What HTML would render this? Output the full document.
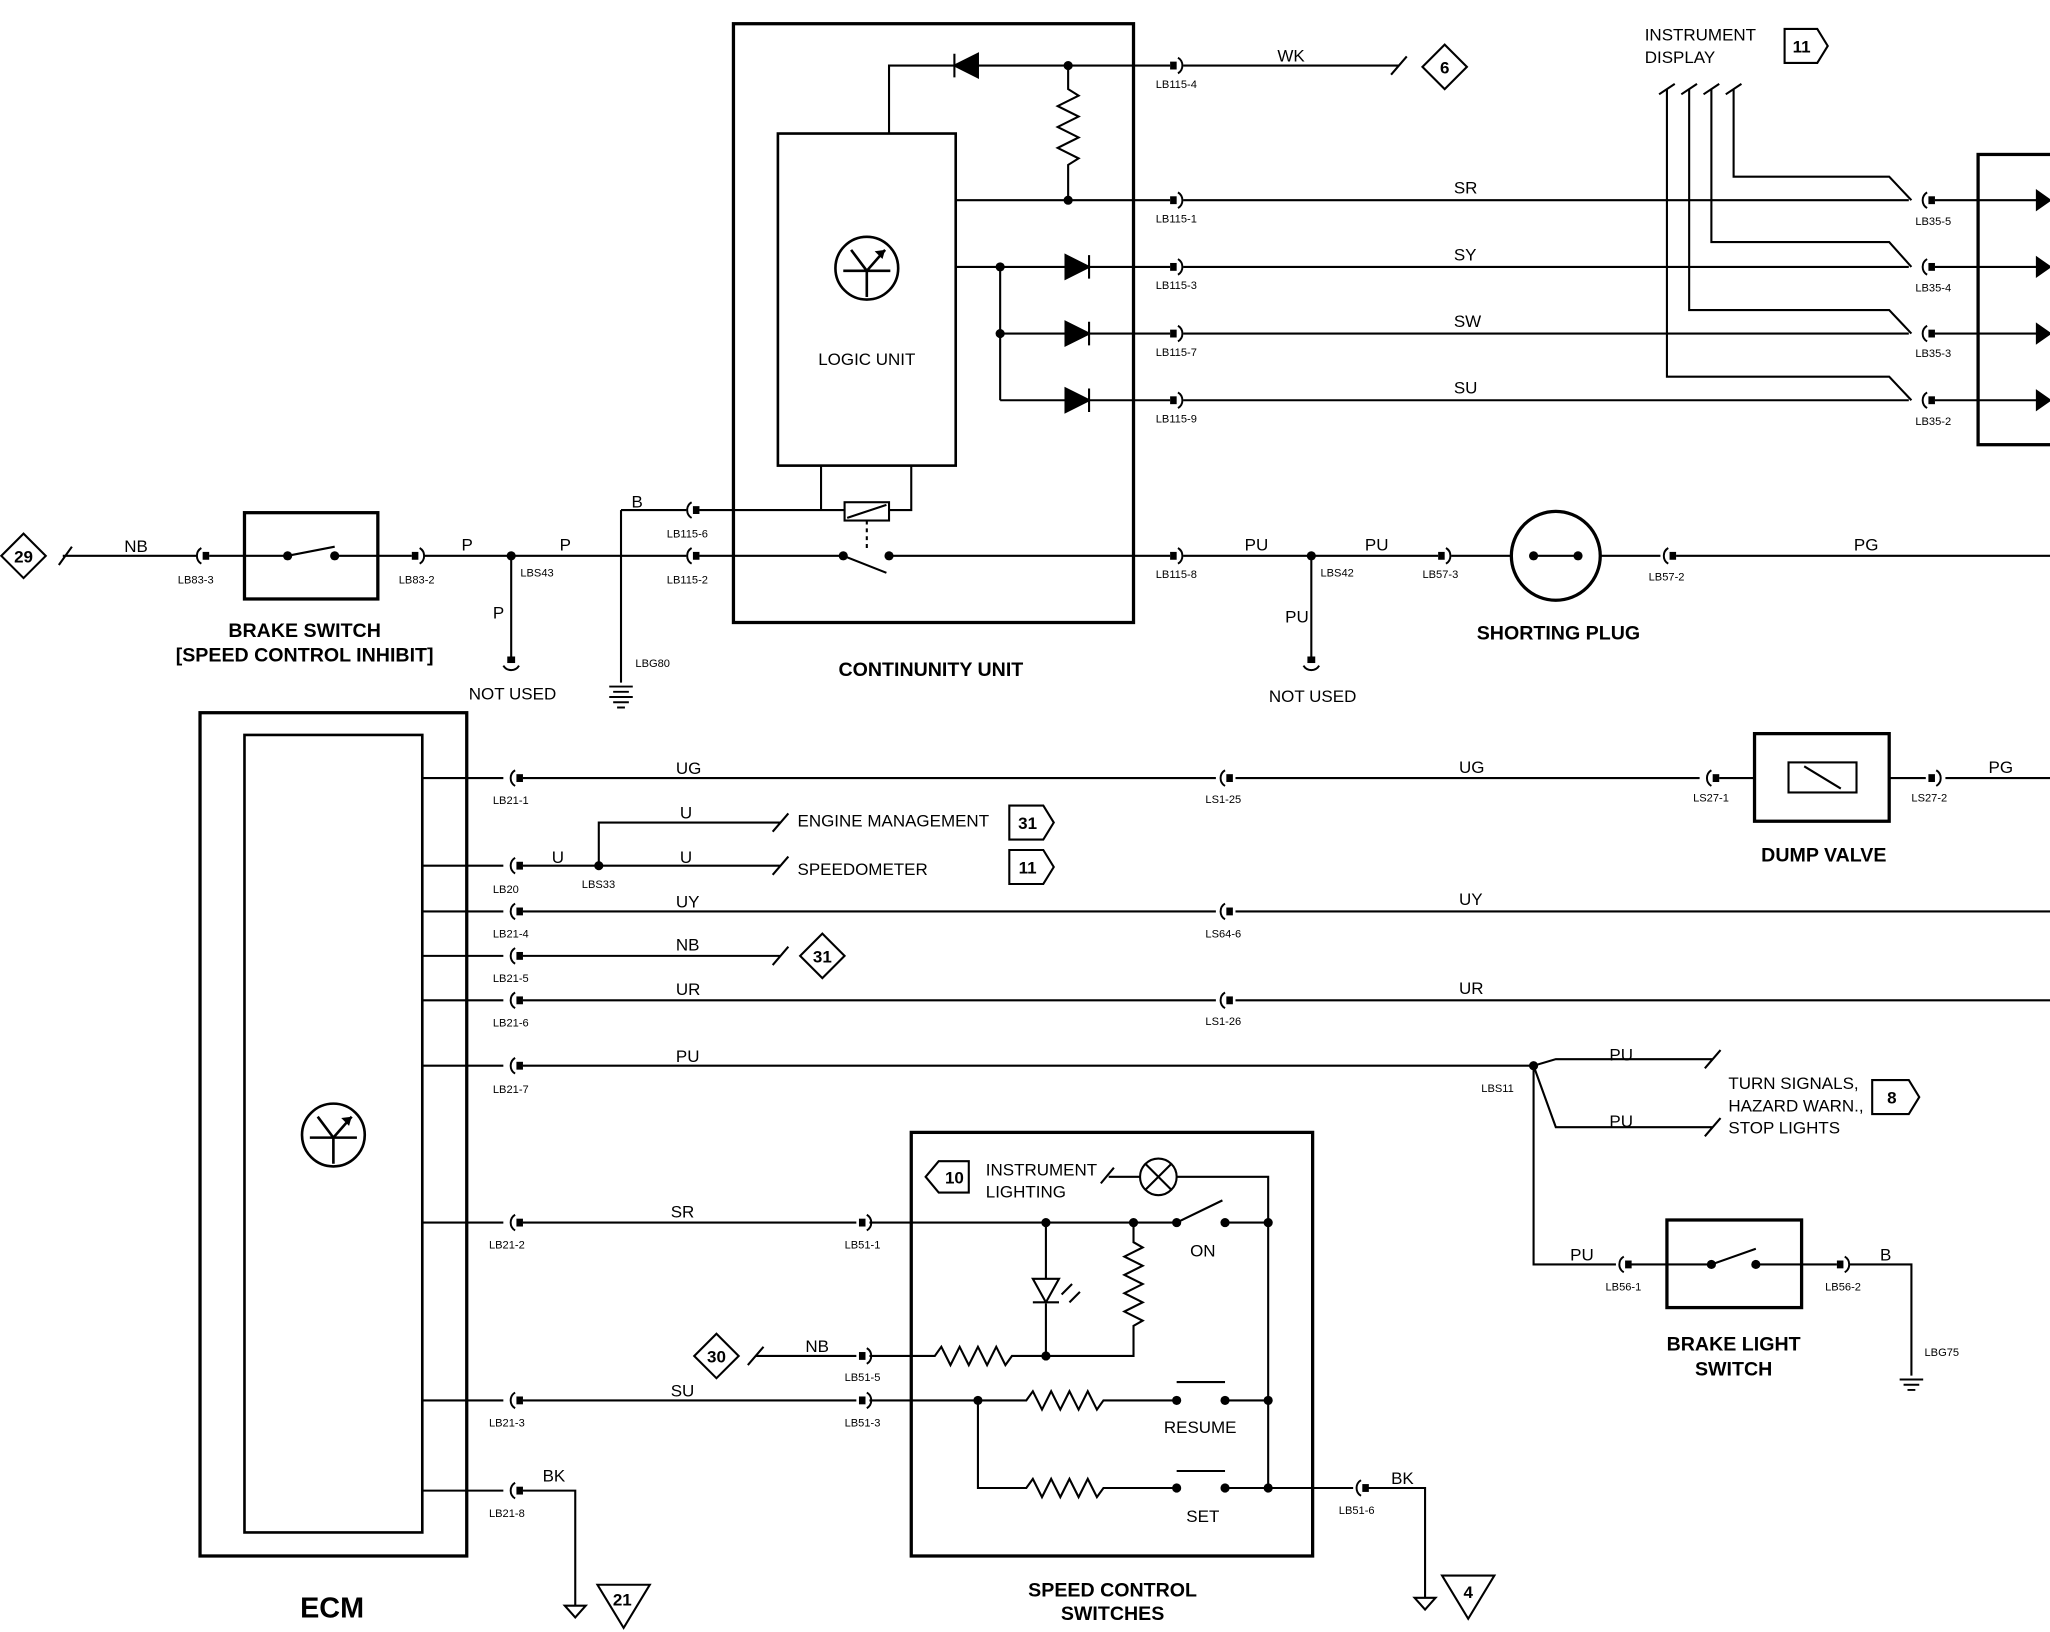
<!DOCTYPE html>
<html><head><meta charset="utf-8"><style>
html,body{margin:0;padding:0;background:#fff}
svg{display:block}
text{font-family:"Liberation Sans",sans-serif;fill:#000}
.w{font-size:13px}
.c{font-size:8.5px}
.b{font-size:15px;font-weight:bold}
.t{font-size:13px}
</style></head><body>
<svg width="2050" height="1632" viewBox="0 0 1568 1248" xmlns="http://www.w3.org/2000/svg">
<defs>
<g id="cn"><rect x="-5" y="-3" width="5" height="6" fill="#000"/><path d="M1,-6 A7,7 0 0 1 1,6" fill="none" stroke="#000" stroke-width="1.5"/></g>
<g id="cd"><rect x="-3" y="-6" width="6" height="5" fill="#000"/><path d="M-6,1 A7,7 0 0 0 6,1" fill="none" stroke="#000" stroke-width="1.5"/></g>
<g id="dot"><circle r="3.5" fill="#000"/></g>
<g id="sym"><circle r="24" fill="none" stroke="#000" stroke-width="2"/><path d="M-18,2 H18 M0,2 V22 M0,2 L-12,-14 M0,2 L14,-14" stroke="#000" stroke-width="2" fill="none"/><path d="M14,-14 l-8,1 l6,6z" fill="#000"/></g>
<g id="gnd"><path d="M-9,0 H9 M-6,4 H6 M-3,8 H3" stroke="#000" stroke-width="1.5"/></g>
</defs>
<g fill="none" stroke="#000" stroke-width="1.6">
<!-- continuity unit -->
<rect x="561" y="18" width="306" height="458" stroke-width="2.5"/>
<rect x="595" y="102" width="136" height="254" stroke-width="2"/>
<path d="M680,102 V50 H895"/>
<path d="M817,50 V68 l8,5 l-16,8 l16,8 l-16,8 l16,8 l-16,8 l16,8 l-8,5 V153"/>
<path d="M731,153 H895 M731,204 H765 V306 M765,204 H895 M765,255 H895 M765,306 H895"/>
<!-- right wires -->
<path d="M905,50 H1070 M1064,57 l12,-14"/>
<path d="M905,153 H1460 M905,204 H1460 M905,255 H1460 M905,306 H1460"/>
<path d="M1480,153 H1568 M1480,204 H1568 M1480,255 H1568 M1480,306 H1568"/>
<rect x="1513" y="118" width="70" height="222" stroke-width="2.5"/>
<path d="M1326,68 V135 H1445 L1462,153 M1309,68 V185 H1445 L1462,204 M1292,68 V237 H1445 L1462,255 M1275,68 V288 H1445 L1462,306"/>
<path d="M1269,72 l12,-8 M1286,72 l12,-8 M1303,72 l12,-8 M1320,72 l12,-8"/>
<path d="M1365,22 H1390 L1398,35 L1390,48 H1365 Z"/>
<path d="M1105,34 L1122,51 L1105,68 L1088,51 Z"/>
<!-- middle row -->
<path d="M18,408 L35,425 L18,442 L1,425 Z"/>
<path d="M48,425 H150 M45,432 l10,-14"/>
<rect x="187" y="392" width="102" height="66" stroke-width="2.5"/>
<path d="M160,425 H220 L256,418 M256,425 H315"/>
<path d="M325,425 H525 M391,425 V503 M475,390 V522 M475,390 H525"/>
<path d="M535,390 H646 M628,356 V390 M697,356 V390 H680"/>
<rect x="646" y="384" width="34" height="14"/>
<path d="M648,396 L678,386"/>
<path d="M663,398 V420" stroke-dasharray="3,3"/>
<path d="M535,425 H645 L678,438 M680,425 H895"/>
<path d="M905,425 H1100 M1003,425 V503 M1110,425 H1156 M1224,425 H1270 M1282,425 H1568"/>
<circle cx="1190" cy="425" r="34" stroke-width="2.5"/>
<path d="M1173,425 H1207"/>
<!-- ECM -->
<rect x="153" y="545" width="204" height="645" stroke-width="2.5"/>
<rect x="187" y="562" width="136" height="610" stroke-width="2"/>
<path d="M323,595 H385 M400,595 H930 M945,595 H1300 M1315,595 H1342 M1445,595 H1473 M1488,595 H1568"/>
<rect x="1342" y="561" width="103" height="67" stroke-width="2.5"/>
<rect x="1368" y="583" width="52" height="23"/>
<path d="M1380,586 L1408,603"/>
<path d="M323,662 H385 M400,662 H597 M458,662 V629 H597 M591,669 l12,-14 M591,636 l12,-14"/>
<path d="M772,616 H798 L806,629 L798,642 H772 Z M772,650 H798 L806,663 L798,676 H772 Z"/>
<path d="M323,697 H385 M400,697 H930 M945,697 H1568"/>
<path d="M323,731 H385 M400,731 H597 M591,738 l12,-14"/>
<path d="M629,714 L646,731 L629,748 L612,731 Z"/>
<path d="M323,765 H385 M400,765 H930 M945,765 H1568"/>
<path d="M323,815 H385 M400,815 H1173 L1190,810 H1310 M1173,815 L1190,862 H1310 M1304,817 l12,-14 M1304,869 l12,-14"/>
<path d="M1432,826 H1460 L1468,839 L1460,852 H1432 Z"/>
<path d="M1173,815 V967 H1236 M1246,967 H1275 M1378,967 H1405 M1415,967 H1462 V1052"/>
<rect x="1275" y="933" width="103" height="67" stroke-width="2.5"/>
<path d="M1275,967 H1309 L1343,955 M1343,967 H1378"/>
<path d="M323,935 H385 M400,935 H655 M323,1071 H385 M400,1071 H655 M323,1140 H385 M400,1140 H440 V1228"/>
<path d="M432,1228 H448 L440,1237 Z"/>
<path d="M457,1212 H497 L477,1245 Z"/>
<!-- speed control switches -->
<rect x="697" y="866" width="307" height="324" stroke-width="2.5"/>
<path d="M708,900 L718,888 H741 V912 H718 Z"/>
<path d="M842,905 l10,-12 M848,900 H872 M900,900 H970 V1138"/>
<circle cx="886" cy="900" r="14"/>
<path d="M876,890 L896,910 M896,890 L876,910"/>
<path d="M665,935 H900 L935,918 M937,935 H970"/>
<path d="M800,935 V978 M800,997 V1037 M867,935 V950 l7,4 l-14,7 l14,7 l-14,7 l14,7 l-14,7 l14,7 l-14,7 l14,7 l-7,4 V1037 H800"/>
<path d="M790,978 H810 L800,996 Z M790,996 H810"/>
<path d="M812,990 l8,-8 M818,996 l8,-8"/>
<path d="M578,1037 H655 M572,1044 l12,-14 M665,1037 H715 l5,-7 l7,14 l7,-14 l7,14 l7,-14 l7,14 l7,-14 l7,14 l5,-7 H800"/>
<path d="M548,1020 L565,1037 L548,1054 L531,1037 Z"/>
<path d="M665,1071 H785 l5,-7 l7,14 l7,-14 l7,14 l7,-14 l7,14 l7,-14 l7,14 l5,-7 H900 M937,1071 H970 M900,1057 H937"/>
<path d="M748,1071 V1138 H785 l5,-7 l7,14 l7,-14 l7,14 l7,-14 l7,14 l7,-14 l7,14 l5,-7 H900 M937,1138 H1035 M900,1125 H937"/>
<path d="M1045,1138 H1090 V1222 M1082,1222 H1098 L1090,1231 Z"/>
<path d="M1103,1205 H1143 L1123,1238 Z"/>
</g>
<!-- diodes -->
<g fill="#000" stroke="#000" stroke-width="1.6">
<path d="M730,50 L748,41 V59 Z M730,41 V59"/>
<path d="M833,204 L815,195 V213 Z M833,195 V213"/>
<path d="M833,255 L815,246 V264 Z M833,246 V264"/>
<path d="M833,306 L815,297 V315 Z M833,297 V315"/>
<path d="M1568,153 l-10,-7 v14z M1568,204 l-10,-7 v14z M1568,255 l-10,-7 v14z M1568,306 l-10,-7 v14z"/>
</g>
<use href="#sym" x="663" y="205"/>
<use href="#sym" x="255" y="868"/>
<g>
<use href="#dot" x="817" y="50"/><use href="#dot" x="817" y="153"/><use href="#dot" x="765" y="204"/><use href="#dot" x="765" y="255"/>
<use href="#dot" x="220" y="425"/><use href="#dot" x="256" y="425"/><use href="#dot" x="391" y="425"/><use href="#dot" x="645" y="425"/><use href="#dot" x="680" y="425"/>
<use href="#dot" x="1003" y="425"/><use href="#dot" x="1173" y="425"/><use href="#dot" x="1207" y="425"/>
<use href="#dot" x="458" y="662"/><use href="#dot" x="1173" y="815"/><use href="#dot" x="1309" y="967"/><use href="#dot" x="1343" y="967"/>
<use href="#dot" x="900" y="935"/><use href="#dot" x="937" y="935"/><use href="#dot" x="800" y="935"/><use href="#dot" x="867" y="935"/><use href="#dot" x="970" y="935"/>
<use href="#dot" x="800" y="1037"/><use href="#dot" x="748" y="1071"/><use href="#dot" x="900" y="1071"/><use href="#dot" x="937" y="1071"/><use href="#dot" x="970" y="1071"/>
<use href="#dot" x="900" y="1138"/><use href="#dot" x="937" y="1138"/><use href="#dot" x="970" y="1138"/>
</g>
<g>
<use href="#cn" x="900" y="50"/><use href="#cn" x="900" y="153"/><use href="#cn" x="900" y="204"/><use href="#cn" x="900" y="255"/><use href="#cn" x="900" y="306"/>
<use href="#cn" x="900" y="425"/>
<use href="#cn" x="1475" y="153" transform="rotate(180 1475 153)"/><use href="#cn" x="1475" y="204" transform="rotate(180 1475 204)"/><use href="#cn" x="1475" y="255" transform="rotate(180 1475 255)"/><use href="#cn" x="1475" y="306" transform="rotate(180 1475 306)"/>
<use href="#cn" x="155" y="425" transform="rotate(180 155 425)"/><use href="#cn" x="320" y="425"/>
<use href="#cn" x="530" y="390" transform="rotate(180 530 390)"/><use href="#cn" x="530" y="425" transform="rotate(180 530 425)"/>
<use href="#cn" x="1105" y="425"/><use href="#cn" x="1277" y="425" transform="rotate(180 1277 425)"/>
<use href="#cd" x="391" y="508"/><use href="#cd" x="1003" y="508"/>
<use href="#cn" x="395" y="595" transform="rotate(180 395 595)"/><use href="#cn" x="938" y="595" transform="rotate(180 938 595)"/><use href="#cn" x="1310" y="595" transform="rotate(180 1310 595)"/><use href="#cn" x="1480" y="595"/>
<use href="#cn" x="395" y="662" transform="rotate(180 395 662)"/><use href="#cn" x="395" y="697" transform="rotate(180 395 697)"/><use href="#cn" x="938" y="697" transform="rotate(180 938 697)"/>
<use href="#cn" x="395" y="731" transform="rotate(180 395 731)"/><use href="#cn" x="395" y="765" transform="rotate(180 395 765)"/><use href="#cn" x="938" y="765" transform="rotate(180 938 765)"/>
<use href="#cn" x="395" y="815" transform="rotate(180 395 815)"/><use href="#cn" x="395" y="935" transform="rotate(180 395 935)"/><use href="#cn" x="395" y="1071" transform="rotate(180 395 1071)"/><use href="#cn" x="395" y="1140" transform="rotate(180 395 1140)"/>
<use href="#cn" x="662" y="935"/><use href="#cn" x="662" y="1037"/><use href="#cn" x="662" y="1071"/>
<use href="#cn" x="1243" y="967" transform="rotate(180 1243 967)"/><use href="#cn" x="1410" y="967"/><use href="#cn" x="1042" y="1138" transform="rotate(180 1042 1138)"/>
</g>
<use href="#gnd" x="475" y="525"/><use href="#gnd" x="475" y="533" transform="translate(0,0)"/>
<use href="#gnd" x="1462" y="1055"/>
<!-- text -->
<g class="w">
<text x="977" y="47">WK</text><text x="1112" y="148">SR</text><text x="1112" y="199">SY</text><text x="1112" y="250">SW</text><text x="1112" y="301">SU</text>
<text x="95" y="422">NB</text><text x="353" y="421">P</text><text x="428" y="421">P</text><text x="377" y="473">P</text><text x="483" y="388">B</text>
<text x="952" y="421">PU</text><text x="1044" y="421">PU</text><text x="983" y="476">PU</text><text x="1418" y="421">PG</text>
<text x="517" y="592">UG</text><text x="1116" y="591">UG</text><text x="1521" y="591">PG</text>
<text x="422" y="660">U</text><text x="520" y="626">U</text><text x="520" y="660">U</text>
<text x="517" y="694">UY</text><text x="1116" y="692">UY</text><text x="517" y="727">NB</text><text x="517" y="761">UR</text><text x="1116" y="760">UR</text>
<text x="517" y="812">PU</text><text x="1231" y="811">PU</text><text x="1231" y="862">PU</text><text x="1201" y="964">PU</text><text x="1438" y="964">B</text>
<text x="513" y="931">SR</text><text x="513" y="1068">SU</text><text x="616" y="1034">NB</text><text x="415" y="1133">BK</text><text x="1064" y="1135">BK</text>
</g>
<g class="c">
<text x="884" y="67">LB115-4</text><text x="884" y="170">LB115-1</text><text x="884" y="221">LB115-3</text><text x="884" y="272">LB115-7</text><text x="884" y="323">LB115-9</text><text x="884" y="442">LB115-8</text>
<text x="1465" y="172">LB35-5</text><text x="1465" y="223">LB35-4</text><text x="1465" y="273">LB35-3</text><text x="1465" y="325">LB35-2</text>
<text x="136" y="446">LB83-3</text><text x="305" y="446">LB83-2</text><text x="398" y="441">LBS43</text><text x="510" y="411">LB115-6</text><text x="510" y="446">LB115-2</text><text x="486" y="510">LBG80</text>
<text x="1010" y="441">LBS42</text><text x="1088" y="442">LB57-3</text><text x="1261" y="444">LB57-2</text>
<text x="377" y="615">LB21-1</text><text x="922" y="614">LS1-25</text><text x="1295" y="613">LS27-1</text><text x="1462" y="613">LS27-2</text>
<text x="377" y="683">LB20</text><text x="445" y="679">LBS33</text><text x="377" y="717">LB21-4</text><text x="922" y="717">LS64-6</text>
<text x="377" y="751">LB21-5</text><text x="377" y="785">LB21-6</text><text x="922" y="784">LS1-26</text><text x="377" y="836">LB21-7</text><text x="1133" y="835">LBS11</text>
<text x="374" y="955">LB21-2</text><text x="374" y="1091">LB21-3</text><text x="374" y="1160">LB21-8</text>
<text x="646" y="955">LB51-1</text><text x="646" y="1056">LB51-5</text><text x="646" y="1091">LB51-3</text><text x="1024" y="1158">LB51-6</text>
<text x="1228" y="987">LB56-1</text><text x="1396" y="987">LB56-2</text><text x="1472" y="1037">LBG75</text>
</g>
<g class="t">
<text x="1258" y="31">INSTRUMENT</text><text x="1258" y="48">DISPLAY</text>
<text x="663" y="279" text-anchor="middle">LOGIC UNIT</text>
<text x="392" y="535" text-anchor="middle">NOT USED</text><text x="1004" y="537" text-anchor="middle">NOT USED</text>
<text x="610" y="632">ENGINE MANAGEMENT</text><text x="610" y="669">SPEEDOMETER</text>
<text x="1322" y="833">TURN SIGNALS,</text><text x="1322" y="850">HAZARD WARN.,</text><text x="1322" y="867">STOP LIGHTS</text>
<text x="754" y="899">INSTRUMENT</text><text x="754" y="916">LIGHTING</text>
<text x="920" y="961" text-anchor="middle">ON</text><text x="918" y="1096" text-anchor="middle">RESUME</text><text x="920" y="1164" text-anchor="middle">SET</text>
</g>
<g class="b" text-anchor="middle">
<text x="233" y="487">BRAKE SWITCH</text><text x="233" y="506">[SPEED CONTROL INHIBIT]</text>
<text x="712" y="517">CONTINUNITY UNIT</text><text x="1192" y="489">SHORTING PLUG</text><text x="1395" y="659">DUMP VALVE</text>
<text x="1326" y="1033">BRAKE LIGHT</text><text x="1326" y="1052">SWITCH</text>
<text x="851" y="1221">SPEED CONTROL</text><text x="851" y="1239">SWITCHES</text>
<text x="254" y="1237" style="font-size:22px">ECM</text>
</g>
<g style="font-size:13px;font-weight:bold" text-anchor="middle">
<text x="1105" y="56">6</text><text x="1378" y="40">11</text><text x="18" y="430">29</text>
<text x="786" y="634">31</text><text x="786" y="668">11</text><text x="629" y="736">31</text><text x="1447" y="844">8</text>
<text x="730" y="905">10</text><text x="548" y="1042">30</text><text x="476" y="1228">21</text><text x="1123" y="1222">4</text>
</g>
</svg>
</body></html>
